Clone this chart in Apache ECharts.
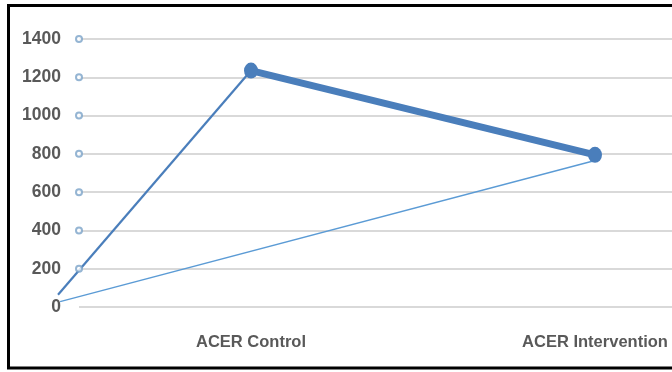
<!DOCTYPE html>
<html>
<head>
<meta charset="utf-8">
<script src="https://cdn.jsdelivr.net/npm/echarts@6/dist/echarts.min.js"></script>
<style>
  html, body { margin: 0; padding: 0; background: #fff; }
  #main { width: 672px; height: 372px; }
</style>
</head>
<body>
<div id="main"></div>
<script>
// categories and where they sit on the hidden value x-axis
const categories = ['ACER Control', 'ACER Intervention']
const catPos = [0.5, 1.5]
// main (thick) series
const mainValues = [1235, 795]
// thin lines coming in from the left edge
const leadA = [[-0.061, 64], [0.5, 1235]]
const leadB = [[-0.055, 28], [1.5, 765]]
// small hollow markers along the y axis
const tickMarks = [200, 400, 600, 800, 1000, 1200, 1400]

const font = "'Liberation Sans', sans-serif"
const unit = 344 // px per x unit
const left = 79

const chart = echarts.init(document.getElementById('main'))
const option = {
  animation: false,
  backgroundColor: '#fff',
  grid: [
    { left: left, top: 39, width: 2 * unit, bottom: 65, outerBoundsMode: 'none', containLabel: false },
    // wider grid for the lines that start left of the axis
    { left: left - 0.1 * unit, top: 39, width: 2.1 * unit, bottom: 65, outerBoundsMode: 'none', containLabel: false }
  ],
  xAxis: [
    {
      type: 'value',
      gridIndex: 0,
      min: 0,
      max: 2,
      interval: 0.5,
      axisLine: { show: false },
      axisTick: { show: false },
      splitLine: { show: false },
      axisLabel: {
        margin: 27,
        color: '#595959',
        fontFamily: font,
        fontWeight: 'bold',
        fontSize: 16.5,
        formatter: v => {
          const i = catPos.indexOf(v)
          return i >= 0 ? categories[i] : ''
        }
      }
    },
    {
      type: 'value',
      gridIndex: 1,
      min: -0.1,
      max: 2,
      show: false
    }
  ],
  yAxis: [
    {
      type: 'value',
      gridIndex: 0,
      min: 0,
      max: 1400,
      interval: 200,
      axisLine: { show: false },
      axisTick: { show: false },
      splitLine: { lineStyle: { color: '#d9d9d9', width: 2 } },
      axisLabel: {
        margin: 18,
        color: '#595959',
        fontFamily: font,
        fontWeight: 'bold',
        fontSize: 17.5,
        formatter: v => String(v)
      }
    },
    {
      type: 'value',
      gridIndex: 1,
      min: 0,
      max: 1400,
      show: false,
      splitLine: { show: false }
    }
  ],
  series: [
    {
      type: 'line',
      xAxisIndex: 1,
      yAxisIndex: 1,
      data: leadB,
      symbol: 'none',
      lineStyle: { color: '#5b9bd5', width: 1.5 }
    },
    {
      type: 'line',
      xAxisIndex: 1,
      yAxisIndex: 1,
      data: leadA,
      symbol: 'none',
      lineStyle: { color: '#4a7ebb', width: 2.2 }
    },
    {
      type: 'scatter',
      xAxisIndex: 1,
      yAxisIndex: 1,
      data: tickMarks.map(v => [0, v]),
      symbol: 'emptyCircle',
      symbolSize: 6,
      itemStyle: { color: '#7ba3c8', borderWidth: 1.3 },
      z: 3
    },
    {
      type: 'line',
      xAxisIndex: 0,
      yAxisIndex: 0,
      data: catPos.map((x, i) => [x, mainValues[i]]),
      symbol: 'circle',
      symbolSize: [14, 16],
      lineStyle: { color: '#4a7ebb', width: 7 },
      itemStyle: { color: '#4a7ebb' },
      z: 4
    }
  ],
  graphic: [
    {
      type: 'rect',
      shape: { x: 8.5, y: 5.5, width: 700, height: 362.5 },
      style: { fill: 'none', stroke: '#000', lineWidth: 3 },
      z: 100
    }
  ]
}
chart.setOption(option)
</script>
</body>
</html>
